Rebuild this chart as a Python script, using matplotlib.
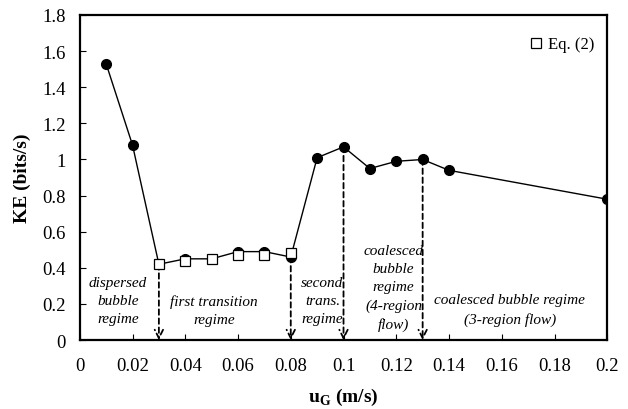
import matplotlib
matplotlib.use("Agg")
import matplotlib.pyplot as plt

# data
ug = [0.01, 0.02, 0.03, 0.04, 0.05, 0.06, 0.07, 0.08, 0.09, 0.10, 0.11, 0.12, 0.13, 0.14, 0.20]
ke = [1.53, 1.08, 0.42, 0.45, 0.45, 0.49, 0.49, 0.46, 1.01, 1.07, 0.95, 0.99, 1.00, 0.94, 0.78]

ug_eq = [0.03, 0.04, 0.05, 0.06, 0.07, 0.08]
ke_eq = [0.42, 0.44, 0.45, 0.47, 0.47, 0.48]

arrow_x = [0.03, 0.08, 0.10, 0.13]
arrow_top = [0.42, 0.46, 1.07, 1.00]

regime_labels = ["dispersed\nbubble\nregime", "first transition\nregime",
                 "second\ntrans.\nregime", "coalesced\nbubble\nregime\n(4-region\nflow)",
                 "coalesced bubble regime\n(3-region flow)"]
label_x = [0.0145, 0.051, 0.092, 0.119, 0.163]
label_y = [0.22, 0.165, 0.22, 0.29, 0.17]

plt.rcParams["font.family"] = "Liberation Serif"

fig = plt.figure(figsize=(6.28, 4.10), dpi=100)
ax = fig.add_axes([0.127, 0.168, 0.840, 0.793])

ax.plot(ug, ke, color="black", lw=1, marker="o", ms=7, mfc="black", mec="black", zorder=3)
ax.plot(ug_eq, ke_eq, ls="none", marker="s", ms=7, mfc="white", mec="black", mew=0.9,
        label="Eq. (2)", zorder=4)

# dashed arrows marking regime transitions
for x, top in zip(arrow_x, arrow_top):
    ax.annotate("", xy=(x, 0.0), xytext=(x, top),
                arrowprops=dict(arrowstyle="->, head_width=0.3, head_length=0.6",
                                ls=(0, (3, 2)), lw=1.3, color="black",
                                shrinkA=0, shrinkB=0), zorder=2)

for txt, x, y in zip(regime_labels, label_x, label_y):
    ax.text(x, y, txt, ha="center", va="center", style="italic", fontsize=11,
            linespacing=1.5)

ax.set_xlim(0, 0.2)
ax.set_ylim(0, 1.8)
ax.set_xticks([0, 0.02, 0.04, 0.06, 0.08, 0.1, 0.12, 0.14, 0.16, 0.18, 0.2])
ax.set_xticklabels(["0", "0.02", "0.04", "0.06", "0.08", "0.1", "0.12", "0.14", "0.16", "0.18", "0.2"])
ax.set_yticks([0, 0.2, 0.4, 0.6, 0.8, 1, 1.2, 1.4, 1.6, 1.8])
ax.set_yticklabels(["0", "0.2", "0.4", "0.6", "0.8", "1", "1.2", "1.4", "1.6", "1.8"])
ax.tick_params(direction="in", labelsize=13.5, length=4, width=0.8)
ax.tick_params(axis="x", pad=12)
ax.tick_params(axis="y", pad=10)
for s in ax.spines.values():
    s.set_linewidth(1.6)

ax.set_xlabel("u$_\\mathregular{G}$ (m/s)", fontsize=14, fontweight="bold", labelpad=9)
ax.set_ylabel("KE (bits/s)", fontsize=14, fontweight="bold", labelpad=8)

ax.legend(loc="upper right", bbox_to_anchor=(1.0, 0.975), frameon=False, fontsize=12,
          handletextpad=0.2, borderaxespad=0.4, handlelength=1)

plt.savefig("out.png", dpi=100)
